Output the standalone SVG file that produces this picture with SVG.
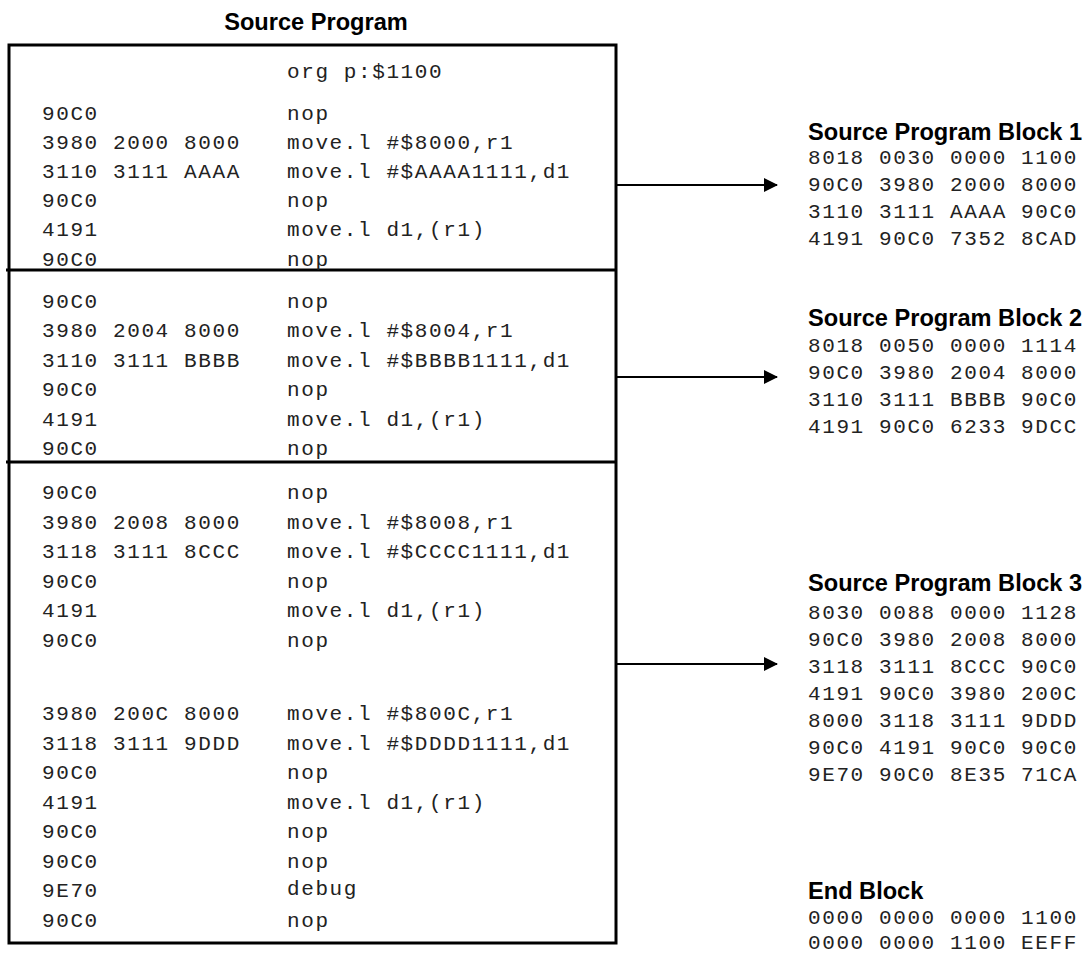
<svg xmlns="http://www.w3.org/2000/svg" width="1087" height="956" viewBox="0 0 1087 956">
<style>
.mono{font-family:"Liberation Mono","DejaVu Sans Mono",monospace;font-size:21px;letter-spacing:1.6px;fill:#222}
.hdr{font-family:"Liberation Sans",Arial,sans-serif;font-size:23.6px;font-weight:bold;fill:#000}
.box{fill:none;stroke:#000;stroke-width:3}
.conn{stroke:#000;stroke-width:2;fill:none}
</style>
<defs>
<marker id="ah" markerWidth="14" markerHeight="14" refX="13" refY="7" orient="auto" markerUnits="userSpaceOnUse">
<path d="M0,0 L14,7 L0,14 Z" fill="#000"/>
</marker>
</defs>
<text class="hdr" x="316" y="30" text-anchor="middle">Source Program</text>
<g id="source-program">
<rect class="box" x="9" y="45" width="607" height="898"/>
<line class="box" x1="6" y1="270" x2="616" y2="270"/>
<line class="box" x1="6" y1="462" x2="616" y2="462"/>
<g id="section1">
<text class="mono" x="287" y="78">org p:$1100</text>
<text class="mono" x="42" y="119.5">90C0</text><text class="mono" x="287" y="119.5">nop</text>
<text class="mono" x="42" y="148.7">3980 2000 8000</text><text class="mono" x="287" y="148.7">move.l #$8000,r1</text>
<text class="mono" x="42" y="177.9">3110 3111 AAAA</text><text class="mono" x="287" y="177.9">move.l #$AAAA1111,d1</text>
<text class="mono" x="42" y="207.1">90C0</text><text class="mono" x="287" y="207.1">nop</text>
<text class="mono" x="42" y="236.3">4191</text><text class="mono" x="287" y="236.3">move.l d1,(r1)</text>
<text class="mono" x="42" y="265.5">90C0</text><text class="mono" x="287" y="265.5">nop</text>
</g>
<g id="section2">
<text class="mono" x="42" y="308">90C0</text><text class="mono" x="287" y="308">nop</text>
<text class="mono" x="42" y="337.4">3980 2004 8000</text><text class="mono" x="287" y="337.4">move.l #$8004,r1</text>
<text class="mono" x="42" y="366.8">3110 3111 BBBB</text><text class="mono" x="287" y="366.8">move.l #$BBBB1111,d1</text>
<text class="mono" x="42" y="396.2">90C0</text><text class="mono" x="287" y="396.2">nop</text>
<text class="mono" x="42" y="425.6">4191</text><text class="mono" x="287" y="425.6">move.l d1,(r1)</text>
<text class="mono" x="42" y="455">90C0</text><text class="mono" x="287" y="455">nop</text>
</g>
<g id="section3">
<text class="mono" x="42" y="499">90C0</text><text class="mono" x="287" y="499">nop</text>
<text class="mono" x="42" y="528.5">3980 2008 8000</text><text class="mono" x="287" y="528.5">move.l #$8008,r1</text>
<text class="mono" x="42" y="558">3118 3111 8CCC</text><text class="mono" x="287" y="558">move.l #$CCCC1111,d1</text>
<text class="mono" x="42" y="587.5">90C0</text><text class="mono" x="287" y="587.5">nop</text>
<text class="mono" x="42" y="617">4191</text><text class="mono" x="287" y="617">move.l d1,(r1)</text>
<text class="mono" x="42" y="646.5">90C0</text><text class="mono" x="287" y="646.5">nop</text>
<text class="mono" x="42" y="720">3980 200C 8000</text><text class="mono" x="287" y="720">move.l #$800C,r1</text>
<text class="mono" x="42" y="749.5">3118 3111 9DDD</text><text class="mono" x="287" y="749.5">move.l #$DDDD1111,d1</text>
<text class="mono" x="42" y="779">90C0</text><text class="mono" x="287" y="779">nop</text>
<text class="mono" x="42" y="808.5">4191</text><text class="mono" x="287" y="808.5">move.l d1,(r1)</text>
<text class="mono" x="42" y="838">90C0</text><text class="mono" x="287" y="838">nop</text>
<text class="mono" x="42" y="867.5">90C0</text><text class="mono" x="287" y="867.5">nop</text>
<text class="mono" x="42" y="897">9E70</text><text class="mono" x="287" y="894.5">debug</text>
<text class="mono" x="42" y="926.5">90C0</text><text class="mono" x="287" y="926.5">nop</text>
</g>
</g>
<g id="connectors">
<line class="conn" x1="617" y1="185" x2="777" y2="185" marker-end="url(#ah)"/>
<line class="conn" x1="617" y1="377" x2="777" y2="377" marker-end="url(#ah)"/>
<line class="conn" x1="617" y1="664" x2="777" y2="664" marker-end="url(#ah)"/>
</g>
<g id="block1">
<text class="hdr" x="808" y="140">Source Program Block 1</text>
<text class="mono" x="808" y="164">8018 0030 0000 1100</text>
<text class="mono" x="808" y="191">90C0 3980 2000 8000</text>
<text class="mono" x="808" y="218">3110 3111 AAAA 90C0</text>
<text class="mono" x="808" y="245">4191 90C0 7352 8CAD</text>
</g>
<g id="block2">
<text class="hdr" x="808" y="326">Source Program Block 2</text>
<text class="mono" x="808" y="352">8018 0050 0000 1114</text>
<text class="mono" x="808" y="379">90C0 3980 2004 8000</text>
<text class="mono" x="808" y="406">3110 3111 BBBB 90C0</text>
<text class="mono" x="808" y="433">4191 90C0 6233 9DCC</text>
</g>
<g id="block3">
<text class="hdr" x="808" y="591">Source Program Block 3</text>
<text class="mono" x="808" y="619">8030 0088 0000 1128</text>
<text class="mono" x="808" y="646">90C0 3980 2008 8000</text>
<text class="mono" x="808" y="673">3118 3111 8CCC 90C0</text>
<text class="mono" x="808" y="700">4191 90C0 3980 200C</text>
<text class="mono" x="808" y="727">8000 3118 3111 9DDD</text>
<text class="mono" x="808" y="754">90C0 4191 90C0 90C0</text>
<text class="mono" x="808" y="781">9E70 90C0 8E35 71CA</text>
</g>
<g id="end-block">
<text class="hdr" x="808" y="899">End Block</text>
<text class="mono" x="808" y="924">0000 0000 0000 1100</text>
<text class="mono" x="808" y="949">0000 0000 1100 EEFF</text>
</g>
</svg>
